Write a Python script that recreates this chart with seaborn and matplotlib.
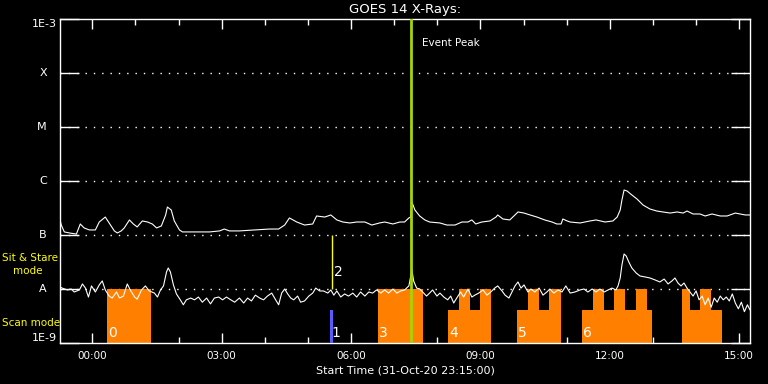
import pandas as pd
import seaborn as sns
import matplotlib.pyplot as plt
import matplotlib.transforms as mtransforms
from matplotlib.ticker import FixedLocator, NullLocator

# GOES 14 long channel (1-8 A); time in hours from 01-Nov-20 00:00
long_hours = [-0.75, -0.72, -0.65, -0.53, -0.37, -0.28, -0.19, -0.07, 0.07, 0.16,
              0.30, 0.39, 0.51, 0.58, 0.67, 0.74, 0.86, 0.95, 1.04, 1.16,
              1.28, 1.39, 1.49, 1.60, 1.70, 1.74, 1.83, 1.90, 2.02, 2.09,
              2.37, 2.72, 2.95, 3.06, 3.18, 3.41, 3.76, 4.11, 4.32, 4.46,
              4.57, 4.74, 4.92, 5.11, 5.20, 5.39, 5.53, 5.67, 5.81, 5.97,
              6.13, 6.32, 6.48, 6.66, 6.78, 6.97, 7.13, 7.24, 7.34, 7.38,
              7.41, 7.48, 7.59, 7.71, 7.82, 8.06, 8.22, 8.41, 8.57, 8.71,
              8.80, 8.89, 9.03, 9.22, 9.36, 9.40, 9.52, 9.68, 9.80, 9.87,
              10.01, 10.15, 10.31, 10.49, 10.66, 10.77, 10.87, 10.91, 11.01, 11.08,
              11.31, 11.54, 11.68, 11.89, 12.07, 12.17, 12.24, 12.28, 12.33, 12.40,
              12.51, 12.63, 12.77, 12.93, 13.09, 13.23, 13.40, 13.56, 13.70, 13.79,
              13.93, 14.09, 14.21, 14.37, 14.56, 14.72, 14.91, 15.02, 15.14, 15.25]
long_flux = [1.90e-7, 1.53e-7, 1.14e-7, 1.09e-7, 1.04e-7, 1.60e-7, 1.35e-7, 1.24e-7, 1.24e-7, 1.74e-7,
             2.15e-7, 1.67e-7, 1.19e-7, 1.09e-7, 1.19e-7, 1.35e-7, 1.90e-7, 1.60e-7, 1.41e-7, 1.82e-7,
             1.74e-7, 1.60e-7, 1.35e-7, 1.47e-7, 2.35e-7, 3.30e-7, 2.90e-7, 1.82e-7, 1.24e-7, 1.14e-7,
             1.14e-7, 1.14e-7, 1.19e-7, 1.29e-7, 1.19e-7, 1.19e-7, 1.24e-7, 1.29e-7, 1.29e-7, 1.53e-7,
             2.07e-7, 1.74e-7, 1.53e-7, 1.60e-7, 2.25e-7, 2.15e-7, 2.35e-7, 1.90e-7, 1.74e-7, 1.67e-7,
             1.74e-7, 1.74e-7, 1.53e-7, 1.67e-7, 1.74e-7, 1.60e-7, 1.74e-7, 1.74e-7, 2.07e-7, 2.15e-7,
             4.08e-7, 2.90e-7, 2.25e-7, 1.90e-7, 1.74e-7, 1.67e-7, 1.53e-7, 1.53e-7, 1.74e-7, 1.74e-7,
             1.90e-7, 1.60e-7, 1.74e-7, 1.82e-7, 2.15e-7, 2.35e-7, 1.98e-7, 1.90e-7, 2.35e-7, 2.67e-7,
             2.55e-7, 2.35e-7, 2.15e-7, 1.90e-7, 1.74e-7, 1.60e-7, 1.60e-7, 1.98e-7, 1.82e-7, 1.74e-7,
             1.67e-7, 1.82e-7, 1.90e-7, 1.74e-7, 1.82e-7, 2.15e-7, 2.90e-7, 4.45e-7, 6.81e-7, 6.53e-7,
             5.51e-7, 4.64e-7, 3.59e-7, 3.03e-7, 2.78e-7, 2.67e-7, 2.55e-7, 2.67e-7, 2.55e-7, 2.78e-7,
             2.45e-7, 2.45e-7, 2.25e-7, 2.45e-7, 2.25e-7, 2.25e-7, 2.55e-7, 2.45e-7, 2.35e-7, 2.35e-7]

# GOES 14 short channel (0.5-4 A)
short_hours = [-0.75, -0.70, -0.58, -0.49, -0.42, -0.30, -0.23, -0.16, -0.09, -0.02,
               0.07, 0.16, 0.23, 0.30, 0.39, 0.46, 0.56, 0.63, 0.72, 0.81,
               0.88, 0.98, 1.04, 1.14, 1.23, 1.32, 1.44, 1.51, 1.58, 1.65,
               1.72, 1.76, 1.81, 1.88, 1.95, 2.04, 2.11, 2.18, 2.28, 2.37,
               2.46, 2.55, 2.65, 2.74, 2.83, 2.93, 3.02, 3.11, 3.21, 3.30,
               3.41, 3.51, 3.60, 3.69, 3.78, 3.88, 3.97, 4.06, 4.16, 4.25,
               4.32, 4.39, 4.46, 4.53, 4.60, 4.67, 4.76, 4.83, 4.92, 5.02,
               5.11, 5.18, 5.27, 5.36, 5.46, 5.53, 5.60, 5.67, 5.76, 5.85,
               5.94, 6.04, 6.13, 6.22, 6.32, 6.41, 6.50, 6.59, 6.69, 6.78,
               6.87, 6.97, 7.06, 7.15, 7.24, 7.34, 7.41, 7.45, 7.52, 7.59,
               7.66, 7.75, 7.82, 7.89, 7.99, 8.06, 8.15, 8.24, 8.31, 8.38,
               8.45, 8.54, 8.61, 8.71, 8.80, 8.87, 8.96, 9.06, 9.15, 9.24,
               9.33, 9.40, 9.50, 9.57, 9.66, 9.73, 9.80, 9.87, 9.94, 10.01,
               10.10, 10.17, 10.26, 10.36, 10.45, 10.54, 10.61, 10.70, 10.80, 10.89,
               10.98, 11.08, 11.19, 11.31, 11.40, 11.49, 11.59, 11.68, 11.77, 11.87,
               11.96, 12.05, 12.14, 12.19, 12.24, 12.28, 12.33, 12.38, 12.44, 12.51,
               12.61, 12.70, 12.82, 12.93, 13.05, 13.16, 13.26, 13.35, 13.44, 13.51,
               13.58, 13.65, 13.72, 13.79, 13.86, 13.93, 14.00, 14.07, 14.14, 14.21,
               14.28, 14.35, 14.42, 14.49, 14.56, 14.63, 14.70, 14.77, 14.84, 14.91,
               14.98, 15.05, 15.12, 15.19, 15.25]
short_flux = [1.09e-8, 1.04e-8, 9.6e-9, 1.00e-8, 8.8e-9, 9.6e-9, 1.24e-8, 1.04e-8, 7.1e-9, 1.14e-8,
              8.8e-9, 1.19e-8, 1.41e-8, 9.6e-9, 7.4e-9, 6.8e-9, 8.8e-9, 6.8e-9, 7.4e-9, 1.24e-8,
              9.6e-9, 7.1e-9, 6.5e-9, 9.6e-9, 1.14e-8, 9.2e-9, 8.4e-9, 7.1e-9, 9.6e-9, 1.14e-8,
              2.07e-8, 2.45e-8, 2.07e-8, 1.19e-8, 8.1e-9, 6.3e-9, 5.1e-9, 6.3e-9, 6.8e-9, 6.3e-9,
              7.1e-9, 5.7e-9, 6.8e-9, 5.3e-9, 6.8e-9, 7.1e-9, 6.3e-9, 7.1e-9, 6.3e-9, 5.7e-9,
              6.8e-9, 5.5e-9, 6.8e-9, 6.0e-9, 7.7e-9, 6.8e-9, 6.3e-9, 7.4e-9, 8.4e-9, 6.3e-9,
              5.1e-9, 8.4e-9, 1.00e-8, 8.1e-9, 6.8e-9, 6.3e-9, 7.4e-9, 5.7e-9, 6.0e-9, 7.4e-9,
              8.4e-9, 1.04e-8, 9.2e-9, 9.2e-9, 8.4e-9, 9.6e-9, 7.7e-9, 9.2e-9, 7.1e-9, 8.1e-9,
              7.4e-9, 8.4e-9, 7.1e-9, 8.8e-9, 7.4e-9, 8.8e-9, 8.4e-9, 9.6e-9, 8.4e-9, 9.6e-9,
              8.4e-9, 1.00e-8, 8.4e-9, 9.2e-9, 9.6e-9, 1.14e-8, 2.25e-8, 1.41e-8, 1.04e-8, 1.00e-8,
              8.8e-9, 7.4e-9, 8.4e-9, 9.6e-9, 7.4e-9, 8.4e-9, 7.1e-9, 6.3e-9, 7.4e-9, 5.5e-9,
              6.8e-9, 8.8e-9, 7.1e-9, 1.00e-8, 7.1e-9, 7.7e-9, 8.4e-9, 9.6e-9, 7.7e-9, 8.8e-9,
              1.04e-8, 1.14e-8, 9.2e-9, 7.7e-9, 6.8e-9, 8.8e-9, 1.14e-8, 1.35e-8, 1.04e-8, 1.19e-8,
              8.8e-9, 1.00e-8, 8.8e-9, 1.04e-8, 7.7e-9, 8.8e-9, 1.00e-8, 8.4e-9, 9.6e-9, 8.8e-9,
              1.14e-8, 8.4e-9, 8.8e-9, 9.6e-9, 1.00e-8, 8.8e-9, 1.00e-8, 8.8e-9, 1.00e-8, 8.8e-9,
              9.6e-9, 1.04e-8, 9.6e-9, 1.14e-8, 1.60e-8, 2.78e-8, 4.45e-8, 4.08e-8, 3.16e-8, 2.45e-8,
              1.98e-8, 1.74e-8, 1.67e-8, 1.60e-8, 1.47e-8, 1.35e-8, 1.53e-8, 1.24e-8, 1.41e-8, 1.60e-8,
              1.29e-8, 1.14e-8, 1.29e-8, 1.04e-8, 8.8e-9, 7.4e-9, 9.2e-9, 6.3e-9, 7.4e-9, 5.1e-9,
              6.8e-9, 4.6e-9, 6.8e-9, 5.7e-9, 7.4e-9, 6.3e-9, 7.1e-9, 6.0e-9, 8.1e-9, 5.5e-9,
              4.3e-9, 5.7e-9, 3.8e-9, 5.1e-9, 4.1e-9]

# scan mode rasters (hours): full-height and half-height blocks
full_start = [0.33, 6.62, 8.50, 8.99, 10.10, 10.59, 11.61, 12.10, 12.61, 13.68, 14.09]
full_end = [1.37, 7.66, 8.75, 9.24, 10.36, 10.87, 11.86, 12.35, 12.86, 13.86, 14.35]
half_start = [8.24, 9.84, 11.35, 13.68]
half_end = [9.24, 10.87, 12.98, 14.60]
full_level = 1.0e-8
half_level = 4.1e-9
scan_labels = ['0', '3', '4', '5', '6']
scan_label_hours = [0.33, 6.62, 8.24, 9.84, 11.35]

# sit & stare markers
stare1_hour = 5.52
stare1_width = 0.07
stare1_top = 4.1e-9
stare2_hour = 5.55
stare2_range = [1.0e-8, 1.0e-7]
event_peak_hour = 7.38

ytick_vals = [1e-3, 1e-4, 1e-5, 1e-6, 1e-7, 1e-8, 1e-9]
ytick_names = ['1E-3', 'X', 'M', 'C', 'B', 'A', '1E-9']
xtick_hours = [0, 3, 6, 9, 12, 15]
xtick_names = ['00:00', '03:00', '06:00', '09:00', '12:00', '15:00']
xminor_hours = list(range(0, 16))

df = pd.concat([
    pd.DataFrame({'hours': long_hours, 'flux': long_flux, 'channel': 'long'}),
    pd.DataFrame({'hours': short_hours, 'flux': short_flux, 'channel': 'short'}),
])

sns.set_theme(style='dark', rc={
    'axes.facecolor': 'black', 'figure.facecolor': 'black',
    'axes.edgecolor': 'white', 'text.color': 'white',
    'xtick.color': 'white', 'ytick.color': 'white',
})
plt.rcParams['font.family'] = ['DejaVu Sans']

fig = plt.figure(figsize=(7.68, 3.84), dpi=100)
ax = fig.add_axes([60 / 768, 41 / 384, 690 / 768, 324 / 384])
ax.set_yscale('log')

orange = '#ff8000'
ax.bar(half_start, [half_level - 1e-9] * len(half_start),
       width=[e - s for s, e in zip(half_start, half_end)], bottom=1e-9,
       align='edge', color=orange, linewidth=0, zorder=1)
ax.bar(full_start, [full_level - 1e-9] * len(full_start),
       width=[e - s for s, e in zip(full_start, full_end)], bottom=1e-9,
       align='edge', color=orange, linewidth=0, zorder=1)

sns.lineplot(data=df, x='hours', y='flux', units='channel', estimator=None,
             color='white', lw=0.8, ax=ax, zorder=2)

# sit & stare 1 (blue) and 2 (yellow)
ax.bar([stare1_hour], [stare1_top - 1e-9], width=stare1_width, bottom=1e-9,
       align='edge', color='#5a5aff', linewidth=0, zorder=3)
ax.vlines(stare2_hour, stare2_range[0], stare2_range[1], color='#ffff00', lw=1, zorder=3)
ax.axvline(event_peak_hour, color='#a8d400', lw=2, zorder=4)

for lab, h in zip(scan_labels, scan_label_hours):
    ax.annotate(lab, xy=(h, 1.55e-9), xytext=(1, 0), textcoords='offset points',
                ha='left', va='center', fontsize=10, color='white', zorder=5)
ax.annotate('1', xy=(stare1_hour, 1.55e-9), xytext=(1, 0), textcoords='offset points',
            ha='left', va='center', fontsize=10, color='white', zorder=5)
ax.annotate('2', xy=(stare2_hour, 2.07e-8), xytext=(2, 0), textcoords='offset points',
            ha='left', va='center', fontsize=10, color='white', zorder=5)
ax.text(7.64, 3.6e-4, 'Event Peak', fontsize=7.5, color='white', va='center', ha='left')

# axes
ax.set_xlim(-0.75, 15.25)
ax.set_ylim(1e-9, 1e-3)
ax.xaxis.set_major_locator(FixedLocator(xtick_hours))
ax.xaxis.set_minor_locator(FixedLocator(xminor_hours))
ax.set_xticklabels(xtick_names)
ax.yaxis.set_major_locator(FixedLocator(ytick_vals))
ax.yaxis.set_minor_locator(NullLocator())
ax.set_yticklabels([])
ax.tick_params(axis='x', which='major', direction='in', length=7, width=1,
               top=True, bottom=True, labelsize=7.5, pad=6, labelcolor='white')
ax.tick_params(axis='x', which='minor', direction='in', length=4, width=1,
               top=True, bottom=True)
ax.tick_params(axis='y', which='major', direction='in', length=14, width=1,
               left=True, right=True)
ax.grid(False)
for v in ytick_vals[1:-1]:
    ax.axhline(v, color='white', lw=1, ls=(0, (1, 5)), zorder=0.5)
for sp in ax.spines.values():
    sp.set_color('white')
    sp.set_linewidth(1)

trans = mtransforms.blended_transform_factory(ax.transAxes, ax.transData)
for i, (v, name) in enumerate(zip(ytick_vals, ytick_names)):
    va = 'top' if i == 0 else ('bottom' if i == len(ytick_vals) - 1 else 'center')
    dx = -2 if name.startswith('1E') else -9.5
    ax.annotate(name, xy=(0, v), xycoords=trans, xytext=(dx, 0), textcoords='offset points',
                ha='right', va=va, fontsize=8, color='white')

ax.set_xlabel('Start Time (31-Oct-20 23:15:00)', fontsize=8, color='white', labelpad=3)
ax.set_ylabel('')
ax.set_title('GOES 14 X-Rays:', fontsize=9.5, color='white', pad=4)

fig.text(2 / 768, 1 - 258 / 384, 'Sit & Stare', color='#ffff00', fontsize=7.5, va='center', ha='left')
fig.text(13 / 768, 1 - 271 / 384, 'mode', color='#ffff00', fontsize=7.5, va='center', ha='left')
fig.text(2 / 768, 1 - 323 / 384, 'Scan mode', color='#ffff00', fontsize=7.5, va='center', ha='left')

fig.savefig('out.png', dpi=100, facecolor='black')
